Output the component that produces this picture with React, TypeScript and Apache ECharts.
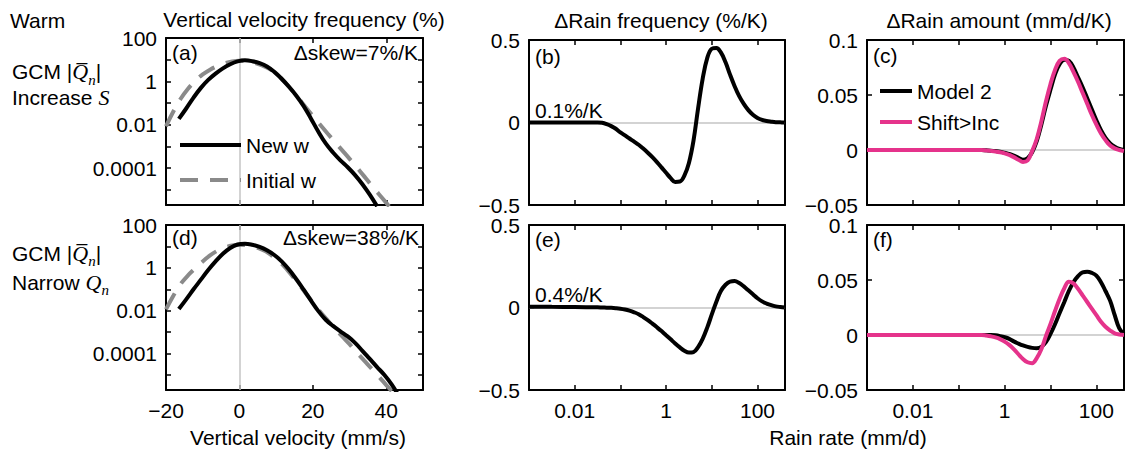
import React, { useEffect, useRef } from 'react';
import * as echarts from 'echarts';

const FONT = '"Liberation Sans", Arial, Helvetica, sans-serif';
const MATH = '"Liberation Serif", "DejaVu Serif", serif';

// ---------- Vertical velocity panels (a) and (d) ----------
const velNewA = [-16.5, -14.5, -12.5, -10.5, -8.5, -6.5, -4.5, -2.5, -0.5, 1.5, 3.5, 5.5, 7.5, 9.5, 11.5, 13.5, 15.5, 17.5, 19.5, 21.5, 23.5, 25.5, 27.5, 29.5, 31.5, 33.5, 35.5, 37.5];
const freqNewA = [0.0186, 0.0562, 0.178, 0.501, 1.17, 2.29, 3.98, 6.17, 8.32, 9.33, 8.51, 6.92, 4.9, 2.75, 1.32, 0.562, 0.219, 0.0724, 0.0191, 0.00479, 0.00138, 0.000525, 0.000229, 0.00011, 0.0000479, 0.0000182, 0.00000603, 0.00000174];
const velInitA = [-20, -18, -16, -14, -12, -10, -8, -6, -4, -2, 0, 2, 4, 6, 8, 10, 12, 14, 16, 18, 20, 22, 24, 26, 28, 30, 32, 34, 36, 38, 40, 42];
const freqInitA = [0.00851, 0.0407, 0.158, 0.457, 1.07, 2.09, 3.47, 5.13, 6.92, 8.32, 8.91, 8.51, 7.24, 5.62, 3.89, 2.29, 1.05, 0.447, 0.174, 0.0661, 0.0257, 0.01, 0.00398, 0.00162, 0.000661, 0.000269, 0.000107, 0.0000417, 0.0000158, 0.00000631, 0.00000251, 0.000001];

const velNewD = [-16.5, -14.5, -12.5, -10.5, -8.5, -6.5, -4.5, -2.5, -0.5, 1.5, 3.5, 5.5, 7.5, 9.5, 11.5, 13.5, 15.5, 17.5, 19.5, 21.5, 23.5, 25.5, 27.5, 29.5, 31.5, 33.5, 35.5, 37.5, 39.5, 41.5, 43.5];
const freqNewD = [0.012, 0.0339, 0.1, 0.282, 0.794, 2.0, 4.57, 8.51, 12.3, 13.5, 12.0, 9.55, 6.61, 3.98, 2.0, 0.832, 0.295, 0.0955, 0.0295, 0.00955, 0.0038, 0.00195, 0.0011, 0.000631, 0.000316, 0.000135, 0.0000562, 0.0000234, 0.00001, 0.00000355, 0.000001];
const velInitD = [-20, -18, -16, -14, -12, -10, -8, -6, -4, -2, 0, 2, 4, 6, 8, 10, 12, 14, 16, 18, 20, 22, 24, 26, 28, 30, 32, 34, 36, 38, 40, 42];
const freqInitD = [0.0115, 0.0501, 0.178, 0.447, 0.955, 2.0, 3.8, 6.31, 8.91, 11.0, 12.0, 11.5, 9.55, 7.24, 4.79, 2.51, 1.26, 0.501, 0.191, 0.0676, 0.024, 0.00891, 0.00355, 0.00145, 0.000631, 0.000275, 0.000112, 0.0000468, 0.00002, 0.00000832, 0.00000339, 0.00000141];

// ---------- Rain-rate panels (b, c, e, f) ----------
const rainRate = [0.001, 0.00316, 0.01, 0.0316, 0.0398, 0.0501, 0.0631, 0.0794, 0.1, 0.126, 0.158, 0.2, 0.251, 0.316, 0.398, 0.501, 0.631, 0.794, 1, 1.26, 1.58, 2, 2.51, 3.16, 3.98, 5.01, 6.31, 7.94, 10, 12.6, 15.8, 20, 25.1, 31.6, 39.8, 50.1, 63.1, 79.4, 100, 126, 158, 200, 251, 316, 398];
const freqChangeB = [0, 0, 0, 0, -0.002, -0.01, -0.022, -0.038, -0.06, -0.078, -0.097, -0.116, -0.135, -0.158, -0.183, -0.21, -0.24, -0.272, -0.305, -0.337, -0.36, -0.358, -0.322, -0.245, -0.11, 0.085, 0.265, 0.39, 0.447, 0.452, 0.425, 0.365, 0.29, 0.22, 0.16, 0.113, 0.075, 0.047, 0.028, 0.016, 0.009, 0.005, 0.002, 0.001, 0];
const freqChangeE = [0.005, 0.004, 0.003, 0.001, 0, -0.001, -0.002, -0.004, -0.007, -0.012, -0.019, -0.029, -0.041, -0.058, -0.077, -0.098, -0.12, -0.143, -0.168, -0.193, -0.218, -0.242, -0.262, -0.273, -0.27, -0.24, -0.19, -0.122, -0.042, 0.035, 0.1, 0.138, 0.157, 0.16, 0.148, 0.128, 0.104, 0.08, 0.056, 0.037, 0.024, 0.014, 0.007, 0.003, 0];
const amountModelC = [0, 0, 0, 0, 0, 0, 0, 0, 0, 0, 0, 0, 0, 0, -0.0003, -0.0006, -0.001, -0.0015, -0.0025, -0.0035, -0.005, -0.007, -0.0088, -0.0075, -0.002, 0.008, 0.023, 0.04, 0.055, 0.069, 0.078, 0.082, 0.081, 0.075, 0.066, 0.057, 0.047, 0.037, 0.027, 0.018, 0.011, 0.006, 0.003, 0.001, 0];
const amountShiftC = [0, 0, 0, 0, 0, 0, 0, 0, 0, 0, 0, 0, 0, 0, -0.0004, -0.0008, -0.0013, -0.002, -0.003, -0.0045, -0.0065, -0.0088, -0.0108, -0.0095, -0.001, 0.01, 0.026, 0.044, 0.06, 0.073, 0.081, 0.083, 0.079, 0.071, 0.062, 0.052, 0.042, 0.032, 0.023, 0.015, 0.009, 0.004, 0.0015, 0, -0.001];
const amountModelF = [0, 0, 0, 0, 0, 0, 0, 0, 0, 0, 0, 0, 0, 0, 0, 0, -0.0003, -0.001, -0.002, -0.0035, -0.0058, -0.0078, -0.0095, -0.0108, -0.0117, -0.012, -0.0108, -0.0065, 0.001, 0.01, 0.02, 0.03, 0.04, 0.048, 0.0535, 0.057, 0.0575, 0.0565, 0.054, 0.048, 0.04, 0.031, 0.018, 0.006, 0.001];
const amountShiftF = [0, 0, 0, 0, 0, 0, 0, 0, 0, 0, 0, 0, 0, 0, -0.0005, -0.0012, -0.0022, -0.0037, -0.006, -0.009, -0.0128, -0.0175, -0.0218, -0.0248, -0.0256, -0.021, -0.013, -0.001, 0.01, 0.022, 0.033, 0.0425, 0.0485, 0.047, 0.042, 0.036, 0.03, 0.024, 0.018, 0.012, 0.0075, 0.004, 0.0015, 0.0005, 0];

// ---------- Tick labels ----------
const freqTickExps = [2, 0, -2, -4];
const freqTickLabels = ['100', '1', '0.01', '0.0001'];
const rainTickExps = [-2, 0, 2];
const rainTickLabels = ['0.01', '1', '100'];

const BLACK = '#000000';
const GREY = '#8a8a8a';
const PINK = '#e5338b';
const ZERO = '#c4c4c4';
const LW = 4;

const zip = (xs: number[], ys: number[]) => xs.map((x, i) => [x, ys[i]]);

const logLabel = (exps: number[], labels: string[]) => (v: number) => {
  const l = Math.log10(v);
  const e = Math.round(l);
  if (Math.abs(l - e) > 1e-6) return '';
  const i = exps.indexOf(e);
  return i >= 0 ? labels[i] : '';
};
const valLabel = (step: number) => (v: number) => {
  const k = v / step;
  if (Math.abs(k - Math.round(k)) > 1e-6) return '';
  if (Math.abs(v) < 1e-9) return '0';
  return (v < 0 ? '\u2212' : '') + String(Math.abs(+v.toFixed(4)));
};

function buildOption() {
  const grids = [
    { left: 166, top: 38, width: 257, height: 167 }, // a
    { left: 529, top: 40, width: 256, height: 165 }, // b
    { left: 867, top: 40, width: 257, height: 165 }, // c
    { left: 166, top: 225, width: 257, height: 165 }, // d
    { left: 529, top: 225, width: 256, height: 165 }, // e
    { left: 867, top: 225, width: 257, height: 165 }, // f
  ];

  const base = (showLabel: boolean, formatter: any, margin: number) => ({
    axisLine: { show: true, onZero: false, lineStyle: { color: BLACK, width: 2 } },
    axisTick: { show: true, inside: true, length: 5, interval: 0, lineStyle: { color: BLACK, width: 1.5 } },
    splitLine: { show: false },
    minorTick: { show: false },
    axisLabel: { show: showLabel, interval: 0, hideOverlap: false, color: BLACK, fontSize: 21, fontFamily: FONT, margin, formatter },
  });

  const xAxis: any[] = [];
  const yAxis: any[] = [];
  const xSpec = [
    { type: 'value', min: -20, max: 50, interval: 20, fmt: valLabel(20), lab: false },
    { type: 'log', min: 0.001, max: 400, fmt: logLabel(rainTickExps, rainTickLabels), lab: false },
    { type: 'log', min: 0.001, max: 400, fmt: logLabel(rainTickExps, rainTickLabels), lab: false },
    { type: 'value', min: -20, max: 50, interval: 20, fmt: valLabel(20), lab: true },
    { type: 'log', min: 0.001, max: 400, fmt: logLabel(rainTickExps, rainTickLabels), lab: true },
    { type: 'log', min: 0.001, max: 400, fmt: logLabel(rainTickExps, rainTickLabels), lab: true },
  ];
  const ySpec = [
    { type: 'log', min: 0.000002, max: 100, fmt: logLabel(freqTickExps, freqTickLabels) },
    { type: 'value', min: -0.5, max: 0.5, interval: 0.5, fmt: valLabel(0.5) },
    { type: 'value', min: -0.05, max: 0.1, interval: 0.05, fmt: valLabel(0.05) },
    { type: 'log', min: 0.000002, max: 100, fmt: logLabel(freqTickExps, freqTickLabels) },
    { type: 'value', min: -0.5, max: 0.5, interval: 0.5, fmt: valLabel(0.5) },
    { type: 'value', min: -0.05, max: 0.1, interval: 0.05, fmt: valLabel(0.05) },
  ];
  grids.forEach((_, g) => {
    const xs: any = xSpec[g];
    const ys: any = ySpec[g];
    const xCommon: any = { gridIndex: g, type: xs.type, min: xs.min, max: xs.max };
    if (xs.interval) xCommon.interval = xs.interval;
    if (xs.type === 'log') xCommon.logBase = 10;
    xAxis.push({ ...xCommon, position: 'bottom', ...base(xs.lab, xs.fmt, 10) });
    xAxis.push({ ...xCommon, position: 'top', ...base(false, xs.fmt, 10) });
    const yCommon: any = { gridIndex: g, type: ys.type, min: ys.min, max: ys.max };
    if (ys.interval) yCommon.interval = ys.interval;
    if (ys.type === 'log') yCommon.logBase = 10;
    yAxis.push({ ...yCommon, position: 'left', ...base(true, ys.fmt, 9) });
    yAxis.push({ ...yCommon, position: 'right', ...base(false, ys.fmt, 9) });
  });

  const zeroLine = (axis: 'xAxis' | 'yAxis') => ({
    silent: true,
    symbol: ['none', 'none'],
    z: 1,
    label: { show: false },
    emphasis: { disabled: true },
    lineStyle: { color: ZERO, width: 1.5, type: 'solid' },
    data: [{ [axis]: 0 }],
  });

  const line = (name: string, g: number, data: number[][], color: string, dashed: boolean, z: number, mark?: any) => ({
    type: 'line',
    name,
    xAxisIndex: 2 * g,
    yAxisIndex: 2 * g,
    data,
    symbol: 'none',
    smooth: 0.4,
    z,
    lineStyle: { color, width: LW, type: dashed ? [18, 12] : 'solid' },
    itemStyle: { color },
    markLine: mark,
  });

  const series = [
    line('Initial w', 0, zip(velInitA, freqInitA), GREY, true, 3, zeroLine('xAxis')),
    line('New w', 0, zip(velNewA, freqNewA), BLACK, false, 4),
    line('Rain frequency change', 1, zip(rainRate, freqChangeB), BLACK, false, 4, zeroLine('yAxis')),
    line('Model 2', 2, zip(rainRate, amountModelC), BLACK, false, 4, zeroLine('yAxis')),
    line('Shift>Inc', 2, zip(rainRate, amountShiftC), PINK, false, 5),
    line('Initial w', 3, zip(velInitD, freqInitD), GREY, true, 3, zeroLine('xAxis')),
    line('New w', 3, zip(velNewD, freqNewD), BLACK, false, 4),
    line('Rain frequency change', 4, zip(rainRate, freqChangeE), BLACK, false, 4, zeroLine('yAxis')),
    line('Model 2', 5, zip(rainRate, amountModelF), BLACK, false, 4, zeroLine('yAxis')),
    line('Shift>Inc', 5, zip(rainRate, amountShiftF), PINK, false, 5),
  ];

  const legendBase = {
    orient: 'vertical',
    padding: 0,
    itemHeight: 14,
    selectedMode: false,
    itemStyle: { opacity: 0 },
    lineStyle: { width: LW },
    textStyle: { color: BLACK, fontSize: 21, fontFamily: FONT },
  };
  const legend = [
    { ...legendBase, data: ['New w', 'Initial w'], left: 178, top: 134.5, itemWidth: 61, itemGap: 14 },
    { ...legendBase, data: ['Model 2', 'Shift>Inc'], left: 878, top: 80.5, itemWidth: 32, itemGap: 10 },
  ];

  const txt = (text: string, x: number, y: number, align = 'left', extra: any = {}) => ({
    type: 'text',
    x,
    y,
    silent: true,
    style: {
      text,
      fill: BLACK,
      fontSize: 21,
      fontFamily: FONT,
      align,
      textAlign: align,
      verticalAlign: 'middle',
      textVerticalAlign: 'middle',
      ...extra,
    },
  });
  const mathRich = {
    q: { fontFamily: MATH, fontStyle: 'italic', fontSize: 22, fill: BLACK },
    n: { fontFamily: MATH, fontStyle: 'italic', fontSize: 15, fill: BLACK, padding: [16, 0, 0, 0] },
    s: { fontFamily: MATH, fontStyle: 'italic', fontSize: 22, fill: BLACK },
  };

  const graphic = [
    txt('Warm', 10, 20),
    txt('Vertical velocity frequency (%)', 304, 19, 'center'),
    txt('\u0394Rain frequency (%/K)', 661, 20, 'center'),
    txt('\u0394Rain amount (mm/d/K)', 999, 20, 'center'),
    txt('Vertical velocity (mm/s)', 298, 437, 'center'),
    txt('Rain rate (mm/d)', 848, 437, 'center'),
    txt('(a)', 172, 52),
    txt('\u0394skew=7%/K', 418, 52, 'right'),
    txt('(b)', 535, 56),
    txt('0.1%/K', 535, 110),
    txt('(c)', 873, 55),
    txt('(d)', 172, 237),
    txt('\u0394skew=38%/K', 419, 237, 'right'),
    txt('(e)', 535, 239),
    txt('0.4%/K', 535, 294),
    txt('(f)', 873, 239),
    txt('GCM |{q|Q\u0305}{n|n}|', 12, 71.5, 'left', { rich: mathRich }),
    txt('Increase {s|S}', 12, 97, 'left', { rich: mathRich }),
    txt('GCM |{q|Q\u0305}{n|n}|', 12, 253, 'left', { rich: mathRich }),
    txt('Narrow {q|Q}{n|n}', 12, 282, 'left', { rich: mathRich }),
  ];

  return {
    animation: false,
    backgroundColor: '#ffffff',
    textStyle: { fontFamily: FONT },
    grid: grids.map((g) => ({ ...g, containLabel: false })),
    xAxis,
    yAxis,
    legend,
    series,
    graphic,
  };
}

export default function App() {
  const ref = useRef<HTMLDivElement>(null);
  useEffect(() => {
    document.body.style.margin = '0';
    const chart = echarts.init(ref.current as HTMLDivElement, null, { renderer: 'svg', width: 1127, height: 453 });
    chart.setOption(buildOption() as any);
    return () => chart.dispose();
  }, []);
  return <div ref={ref} style={{ width: 1127, height: 453 }} />;
}
